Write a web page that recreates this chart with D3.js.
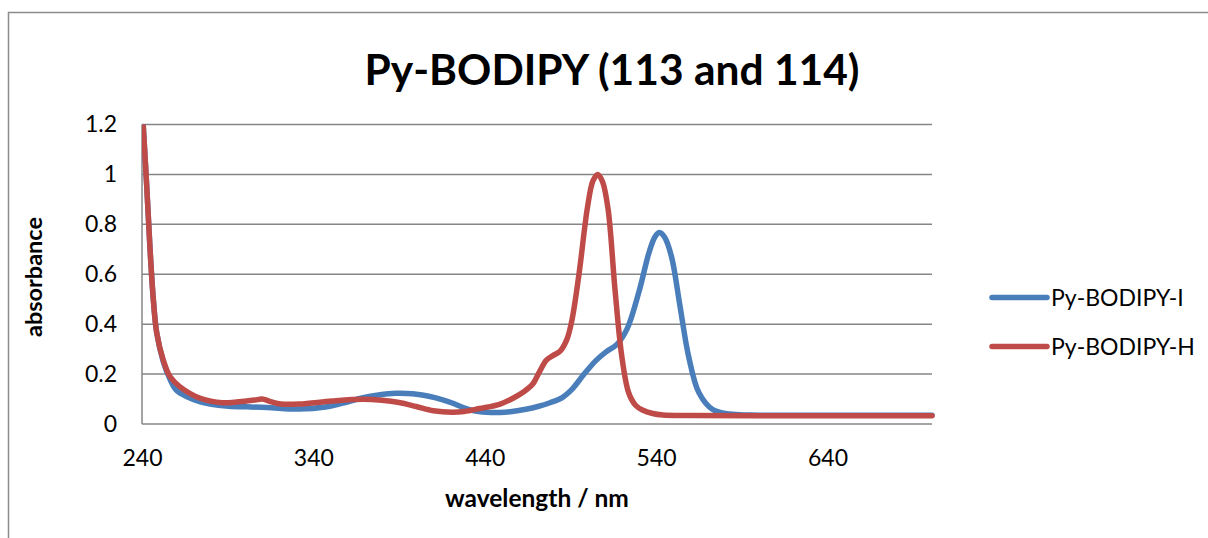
<!DOCTYPE html>
<html>
<head>
<meta charset="utf-8">
<script src="https://cdn.jsdelivr.net/npm/d3@7"></script>
<style>
  html, body { margin: 0; padding: 0; background: #fff; }
  svg { display: block; font-family: Lato, "Open Sans", sans-serif; }
</style>
</head>
<body>
<svg id="chart" width="1208" height="538"></svg>
<script>
// Absorption spectra of the two Py-BODIPY dyes
const seriesNames = ["Py-BODIPY-I", "Py-BODIPY-H"];
const seriesColors = ["#4a7ebb", "#be4b48"];

const wavelengthI = [240, 242.7, 244.7, 246.6, 248.6, 252.4, 256.3, 260, 266, 274, 289, 300, 313, 332, 347, 358, 367, 378, 388, 398, 408, 415, 421, 427, 433, 441, 449, 456, 464, 471, 478, 485, 491, 498, 505, 511, 517, 523, 530, 536, 539.5, 542, 545, 549, 554, 559, 565, 573, 583, 595, 640, 701];
const absorbanceI = [1.28, 0.96, 0.70, 0.50, 0.365, 0.25, 0.18, 0.136, 0.11, 0.089, 0.072, 0.069, 0.066, 0.06, 0.068, 0.085, 0.102, 0.116, 0.123, 0.121, 0.11, 0.098, 0.084, 0.067, 0.054, 0.047, 0.046, 0.05, 0.059, 0.07, 0.085, 0.105, 0.14, 0.2, 0.255, 0.29, 0.318, 0.38, 0.53, 0.69, 0.752, 0.767, 0.748, 0.67, 0.47, 0.27, 0.125, 0.058, 0.04, 0.036, 0.035, 0.035];

const wavelengthH = [240, 242.7, 244.7, 246.6, 248.6, 252.4, 256.3, 262, 274, 287, 301, 306, 310, 315, 321, 332, 351, 369, 380, 390, 400, 410, 421, 428, 437, 449, 457, 463, 468, 472, 476, 480, 484, 488, 491, 495, 500, 503.2, 506, 508.8, 512, 516, 520, 524, 528, 532, 538, 544, 560, 600, 701];
const absorbanceH = [1.28, 0.96, 0.70, 0.50, 0.365, 0.256, 0.19, 0.15, 0.103, 0.085, 0.092, 0.096, 0.1, 0.09, 0.08, 0.08, 0.092, 0.099, 0.095, 0.086, 0.07, 0.053, 0.047, 0.05, 0.062, 0.08, 0.105, 0.13, 0.16, 0.21, 0.256, 0.275, 0.292, 0.34, 0.42, 0.6, 0.87, 0.975, 1.0, 0.97, 0.86, 0.54, 0.27, 0.125, 0.075, 0.056, 0.042, 0.036, 0.034, 0.033, 0.033];

const xTicks = [240, 340, 440, 540, 640];
const yTicks = [0, 0.2, 0.4, 0.6, 0.8, 1, 1.2];

const svg = d3.select("#chart");
const plot = { left: 142, right: 932, top: 124.5, bottom: 424 };

const x = d3.scaleLinear().domain([240, 701]).range([plot.left, plot.right]);
const y = d3.scaleLinear().domain([0, 1.2]).range([plot.bottom, plot.top]);

// outer chart frame
svg.append("rect")
  .attr("x", 8.5).attr("y", 12.5).attr("width", 1220).attr("height", 560)
  .attr("fill", "none").attr("stroke", "#8c8c8c").attr("stroke-width", 1.5);

// title
svg.append("text")
  .attr("x", 612).attr("y", 85)
  .attr("text-anchor", "middle")
  .attr("font-weight", "bold").attr("font-size", 42.5).attr("fill", "#000")
  .text("Py-BODIPY (113 and 114)");

// horizontal gridlines
svg.append("g")
  .selectAll("line")
  .data(yTicks)
  .join("line")
  .attr("x1", plot.left).attr("x2", plot.right)
  .attr("y1", d => y(d)).attr("y2", d => y(d))
  .attr("stroke", "#868686").attr("stroke-width", 1.5);

// y axis line
svg.append("line")
  .attr("x1", plot.left).attr("x2", plot.left)
  .attr("y1", plot.top).attr("y2", plot.bottom)
  .attr("stroke", "#868686").attr("stroke-width", 1.5);

// y axis labels
const yAxis = d3.axisLeft(y).tickValues(yTicks).tickSize(0).tickPadding(25).tickFormat(d3.format("~g"));
const gy = svg.append("g").attr("transform", `translate(${plot.left},0)`).call(yAxis);
gy.select(".domain").remove();
gy.selectAll("text").attr("font-size", 23).attr("font-family", "Lato, sans-serif").attr("fill", "#000");

// x axis labels
const xAxis = d3.axisBottom(x).tickValues(xTicks).tickSize(0).tickPadding(26).tickFormat(d3.format("d"));
const gx = svg.append("g").attr("transform", `translate(0,${plot.bottom})`).call(xAxis);
gx.select(".domain").remove();
gx.selectAll("text").attr("font-size", 23).attr("font-family", "Lato, sans-serif").attr("fill", "#000");

// axis titles
svg.append("text")
  .attr("x", 537).attr("y", 507)
  .attr("text-anchor", "middle")
  .attr("font-weight", "bold").attr("font-size", 24.5)
  .text("wavelength / nm");

svg.append("text")
  .attr("transform", "translate(42,277) rotate(-90)")
  .attr("text-anchor", "middle")
  .attr("font-weight", "bold").attr("font-size", 23.5)
  .text("absorbance");

// spectra
svg.append("defs").append("clipPath").attr("id", "plot-clip")
  .append("rect")
  .attr("x", plot.left).attr("y", plot.top)
  .attr("width", plot.right - plot.left + 10).attr("height", plot.bottom - plot.top + 10);

const line = d3.line()
  .x(d => x(d[0]))
  .y(d => y(d[1]))
  .curve(d3.curveCatmullRom.alpha(0.5));

const series = [
  d3.zip(wavelengthI, absorbanceI),
  d3.zip(wavelengthH, absorbanceH)
];

svg.append("g").attr("clip-path", "url(#plot-clip)")
  .selectAll("path")
  .data(series)
  .join("path")
  .attr("d", line)
  .attr("fill", "none")
  .attr("stroke", (d, i) => seriesColors[i])
  .attr("stroke-width", 5.5)
  .attr("stroke-linecap", "round")
  .attr("stroke-linejoin", "round");

// legend
const legend = svg.append("g")
  .selectAll("g")
  .data(seriesNames)
  .join("g")
  .attr("transform", (d, i) => `translate(992,${297.5 + i * 49})`);

legend.append("line")
  .attr("x1", 0).attr("x2", 55)
  .attr("stroke", (d, i) => seriesColors[i])
  .attr("stroke-width", 5.5)
  .attr("stroke-linecap", "round");

legend.append("text")
  .attr("x", 59).attr("dy", "0.35em")
  .attr("font-size", 23)
  .text(d => d);
</script>
</body>
</html>
